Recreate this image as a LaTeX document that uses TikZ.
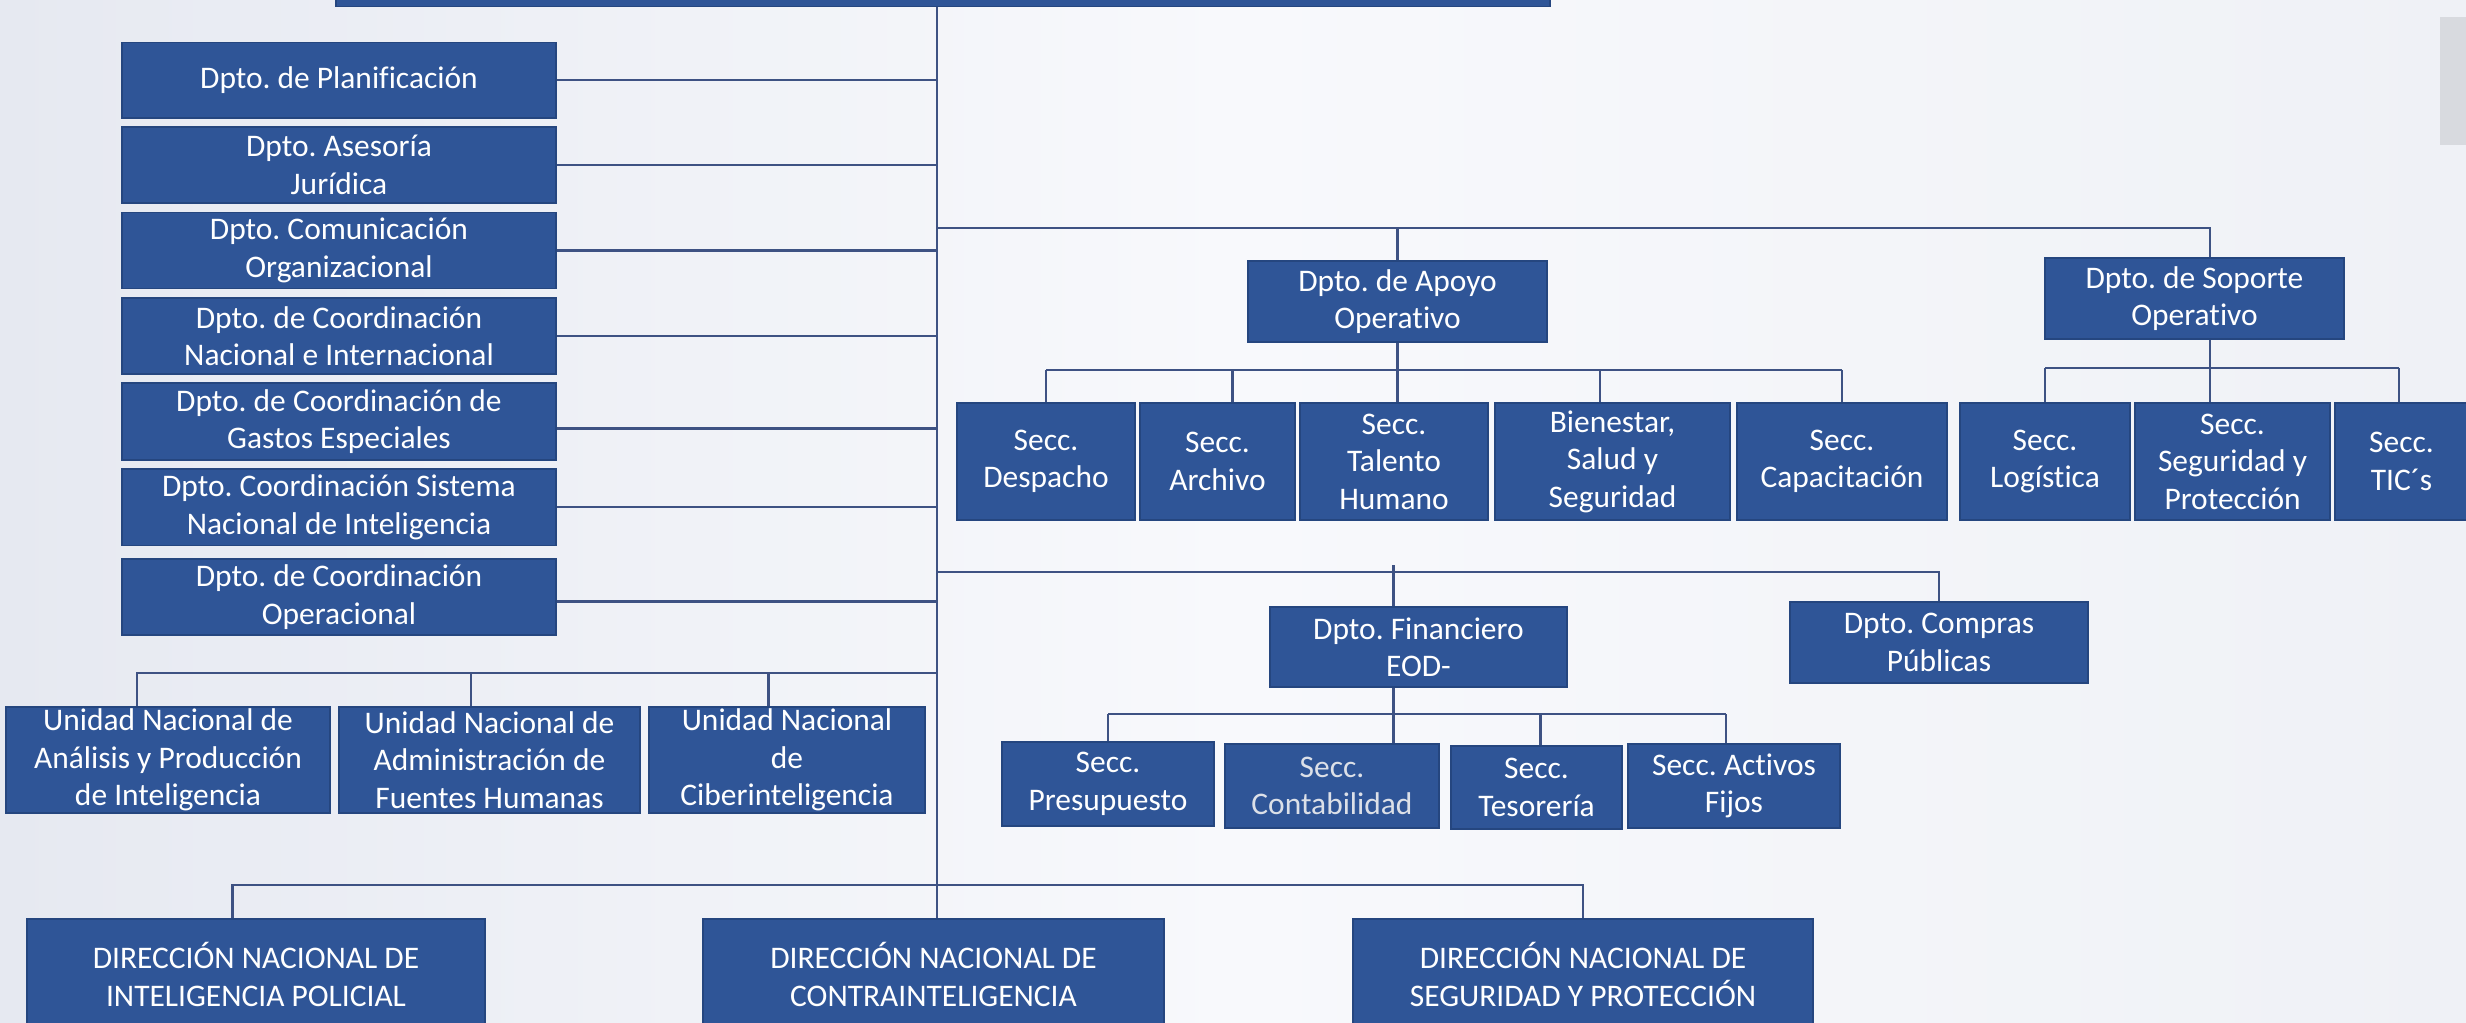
\documentclass[tikz,border=0pt]{standalone}
\usepackage{fontspec}
\setmainfont{Carlito}[Ligatures={NoCommon}]
\frenchspacing
\definecolor{boxblue}{HTML}{2F5597}
\definecolor{boxedge}{HTML}{25467F}
\definecolor{conn}{HTML}{3E5283}
\definecolor{bgL}{HTML}{E6E9F1}
\definecolor{bgM}{HTML}{F8F9FC}
\definecolor{bgR}{HTML}{EFF1F6}
\definecolor{greybar}{HTML}{D8DADF}
\definecolor{dimtext}{HTML}{DCE0E8}
\tikzset{
  box/.style={rectangle, fill=boxblue, draw=boxedge, line width=0.8pt, text=white,
    align=center, inner sep=0pt, font=\fontsize{17.9}{21.3}\selectfont\frenchspacing},
  link/.style={draw=conn, line width=1.3pt}
}
\newcommand\bx[7][]{%
  \pgfmathsetmacro\bw{(#5-#3)*0.02}%
  \pgfmathsetmacro\bh{(#6-#4)*0.02}%
  \node[box, minimum width=\bw cm, minimum height=\bh cm, #1] (#2) at ({(#3+#5)/2},{(#4+#6)/2}) {#7};}
\begin{document}
\begin{tikzpicture}[x=0.02cm, y=-0.02cm]
\useasboundingbox (0,0) rectangle (2466,1023);
\shade[left color=bgL, right color=bgR, middle color=bgM] (0,0) rectangle (2466,1023);
\fill[greybar] (2440,17) rectangle (2470,145);

% boxes
\bx{top}{336}{-40}{1550}{6.5}{}
\bx{p1}{122}{42.5}{556}{118}{Dpto. de Planificación}
\bx{p2}{122}{127}{556}{203}{Dpto. Asesoría\\Jurídica}
\bx{p3}{122}{212.5}{556}{288.5}{Dpto. Comunicación\\Organizacional}
\bx{p4}{122}{298}{556}{374}{Dpto. de Coordinación\\Nacional e Internacional}
\bx{p5}{122}{383}{556}{460}{Dpto. de Coordinación de\\Gastos Especiales}
\bx{p6}{122}{469}{556}{545.5}{Dpto. Coordinación Sistema\\Nacional de Inteligencia}
\bx{p7}{122}{559}{556}{635}{Dpto. de Coordinación\\Operacional}

\bx{apo}{1248}{261}{1547}{342}{Dpto. de Apoyo\\Operativo}
\bx{sop}{2045}{258}{2344}{339}{Dpto. de Soporte\\Operativo}
\bx{s1}{957}{403}{1135}{520}{Secc.\\Despacho}
\bx{s2}{1140}{403}{1295}{520}{Secc.\\Archivo}
\bx{s3}{1300}{403}{1488}{520}{Secc.\\Talento\\Humano}
\bx{s4}{1495}{403}{1730}{520}{Bienestar,\\Salud y\\Seguridad}
\bx{s5}{1737}{403}{1947}{520}{Secc.\\Capacitación}
\bx{s6}{1960}{403}{2130}{520}{Secc.\\Logística}
\bx{s7}{2135}{403}{2330}{520}{Secc.\\Seguridad y\\Protección}
\bx{s8}{2335}{403}{2468}{520}{Secc.\\TIC´s}

\bx{fin}{1270}{607}{1567}{687}{Dpto. Financiero\\EOD-}
\bx{com}{1790}{602}{2088}{683}{Dpto. Compras\\Públicas}
\bx{f1}{1002}{742}{1214}{826}{Secc.\\Presupuesto}
\bx[text=dimtext]{f2}{1225}{744}{1439}{828}{Secc.\\Contabilidad}
\bx{f3}{1451}{746}{1622}{829}{Secc.\\Tesorería}
\bx{f4}{1628}{744}{1840}{828}{Secc. Activos\\Fijos}

\bx{u1}{6}{707}{330}{813}{Unidad Nacional de\\Análisis y Producción\\de Inteligencia}
\bx{u2}{339}{707}{640}{813}{Unidad Nacional de\\Administración de\\Fuentes Humanas}
\bx{u3}{649}{707}{925}{813}{Unidad Nacional\\de\\Ciberinteligencia}

\bx{d1}{27}{919}{485}{1030}{DIRECCIÓN NACIONAL DE\\INTELIGENCIA POLICIAL}
\bx{d2}{703}{919}{1164}{1030}{DIRECCIÓN NACIONAL DE\\CONTRAINTELIGENCIA}
\bx{d3}{1353}{919}{1813}{1030}{DIRECCIÓN NACIONAL DE\\SEGURIDAD Y PROTECCIÓN}

% bus coordinates
\coordinate (trunk) at (937,0);
\coordinate (busA) at (0,228);
\coordinate (busAc) at (0,370);
\coordinate (busSc) at (0,368);
\coordinate (busF) at (0,572);
\coordinate (busFc) at (0,714);
\coordinate (busU) at (0,673);
\coordinate (busD) at (0,885);

% trunk
\draw[link] (trunk |- top.south) -- (trunk |- d2.north);

% left departments
\draw[link] (p1.east) -- (p1.east -| trunk);
\draw[link] (p2.east) -- (p2.east -| trunk);
\draw[link] (p3.east) -- (p3.east -| trunk);
\draw[link] (p4.east) -- (p4.east -| trunk);
\draw[link] ([yshift=-0.14cm]p5.east) -- ([yshift=-0.14cm]p5.east -| trunk);
\draw[link] (p6.east) -- (p6.east -| trunk);
\draw[link] ([yshift=-0.09cm]p7.east) -- ([yshift=-0.09cm]p7.east -| trunk);

% apoyo / soporte
\draw[link] (trunk |- busA) -| ([xshift=0.31cm]sop.north);
\draw[link] (apo.north |- busA) -- (apo.north);
\draw[link] (s1.north |- busAc) -- (s5.north |- busAc);
\draw[link] (apo.south) -- (apo.south |- s3.north);
\draw[link] (s1.north |- busAc) -- (s1.north);
\draw[link] ([xshift=0.3cm]s2.north |- busAc) -- ([xshift=0.3cm]s2.north);
\draw[link] ([xshift=-0.25cm]s4.north |- busAc) -- ([xshift=-0.25cm]s4.north);
\draw[link] (s5.north |- busAc) -- (s5.north);
\draw[link] (s6.north |- busSc) -- ([xshift=-0.05cm]s8.north |- busSc);
\draw[link] ([xshift=0.31cm]sop.south) -- ([xshift=0.31cm]sop.south |- s7.north);
\draw[link] (s6.north |- busSc) -- (s6.north);
\draw[link] ([xshift=-0.05cm]s8.north |- busSc) -- ([xshift=-0.05cm]s8.north);

% financiero / compras
\draw[link] (trunk |- busF) -| (com.north);
\draw[link] ([xshift=-0.5cm,yshift=0.14cm]fin.north |- busF) -- ([xshift=-0.5cm]fin.north);
\draw[link] ([xshift=-0.5cm]fin.south) -- ([xshift=-0.5cm]fin.south |- f2.north);
\draw[link] (f1.north |- busFc) -- ([xshift=-0.16cm]f4.north |- busFc);
\draw[link] (f1.north |- busFc) -- (f1.north);
\draw[link] ([xshift=0.08cm]f3.north |- busFc) -- ([xshift=0.08cm]f3.north);
\draw[link] ([xshift=-0.16cm]f4.north |- busFc) -- ([xshift=-0.16cm]f4.north);

% unidades
\draw[link] (trunk |- busU) -- ([xshift=-0.62cm]u1.north |- busU) -- ([xshift=-0.62cm]u1.north);
\draw[link] ([xshift=-0.37cm]u2.north |- busU) -- ([xshift=-0.37cm]u2.north);
\draw[link] ([xshift=-0.37cm]u3.north |- busU) -- ([xshift=-0.37cm]u3.north);

% direcciones
\draw[link] ([xshift=-0.47cm]d1.north) -- ([xshift=-0.47cm]d1.north |- busD) -| (d3.north);
\end{tikzpicture}
\end{document}
